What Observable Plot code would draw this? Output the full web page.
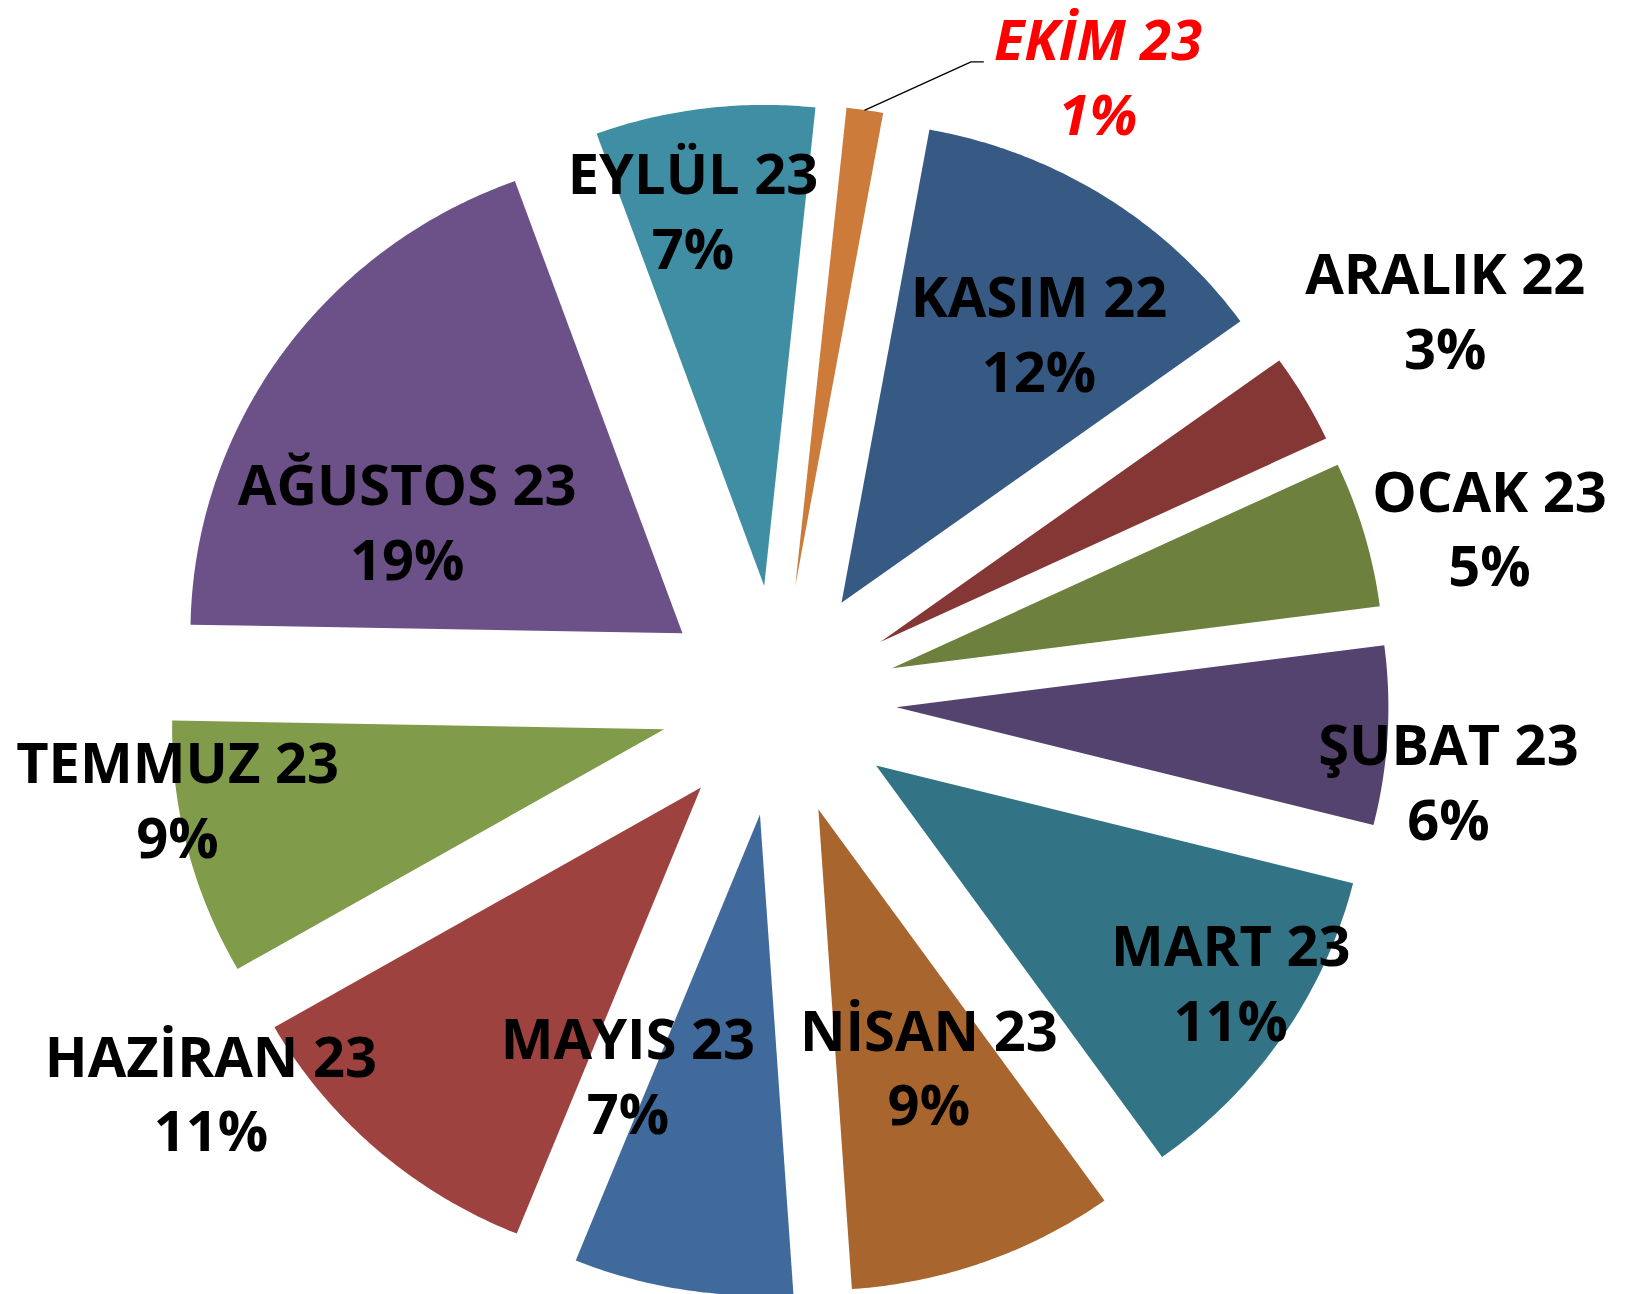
<!DOCTYPE html>
<html>
<head>
<meta charset="utf-8">
<script src="https://cdn.jsdelivr.net/npm/d3@7"></script>
<script src="https://cdn.jsdelivr.net/npm/@observablehq/plot@0.6"></script>
<style>
  html, body { margin: 0; padding: 0; background: #ffffff; overflow: hidden; }
  #chart svg { display: block; }
</style>
</head>
<body>
<div id="chart"></div>
<script>
// ---- data ----
const months = ["KASIM 22", "ARALIK 22", "OCAK 23", "ŞUBAT 23", "MART 23", "NİSAN 23",
                "MAYIS 23", "HAZİRAN 23", "TEMMUZ 23", "AĞUSTOS 23", "EYLÜL 23", "EKİM 23"];
const shares = [12.2, 3.0, 4.9, 6.0, 11.2, 8.8, 7.2, 10.6, 8.6, 19.2, 7.2, 1.2];
const colors = ["#375A84", "#843735", "#6D803D", "#54436E", "#327486", "#A8652E",
                "#416A9C", "#9E4240", "#809C4A", "#6B5188", "#3F8EA3", "#CC7B3A"];

// ---- label layout (Excel "best fit" placement), relative to each slice ----
const labelShift  = [2.8, -0.2, 2.6, 4.0, -1.4, -1.9, 12.2, 13.4, 4.5, -9.8, -2.8, 18.6]; // degrees
const labelRadius = [0.922, 1.575, 1.487, 1.373, 1.095, 0.829, 0.845, 1.418, 1.240, 0.838, 1.025, 1.443];
const highlight = "EKİM 23";

const START_DEG = 10.3;   // first slice start angle, clockwise from 12 o'clock
const EXPLODE = 0.24;     // slice explosion, in pie radii

// ---- geometry ----
const rad = d => d * Math.PI / 180;
const total = d3.sum(shares);
let acc = 0;
const slices = months.map((m, i) => {
  const a0 = START_DEG + acc / total * 360;
  acc += shares[i];
  const a1 = START_DEG + acc / total * 360;
  const mid = (a0 + a1) / 2;
  return {month: m, a0, a1, mid, pct: Math.round(shares[i] / total * 100),
          cx: EXPLODE * Math.sin(rad(mid)), cy: EXPLODE * Math.cos(rad(mid))};
});

const pts = [];
for (const s of slices) {
  pts.push({month: s.month, x: s.cx, y: s.cy});
  const n = Math.max(4, Math.ceil((s.a1 - s.a0) / 0.5));
  for (let k = 0; k <= n; k++) {
    const a = rad(s.a0 + (s.a1 - s.a0) * k / n);
    pts.push({month: s.month, x: s.cx + Math.sin(a), y: s.cy + Math.cos(a)});
  }
}

const labels = slices.map((s, i) => {
  const a = rad(s.mid + labelShift[i]);
  return {month: s.month, x: labelRadius[i] * Math.sin(a), y: labelRadius[i] * Math.cos(a),
          text: s.month + "\n" + s.pct + "%"};
});

const hl = slices.find(s => s.month === highlight);
const hlLab = labels.find(l => l.month === highlight);
const leader = [
  {x: hl.cx + Math.sin(rad(hl.mid)), y: hl.cy + Math.cos(rad(hl.mid))},
  {x: hlLab.x - 0.258, y: hlLab.y + 0.039},
  {x: hlLab.x - 0.233, y: hlLab.y + 0.039}
];

const font = "'Open Sans', Lato, 'DejaVu Sans', sans-serif";

const chart = Plot.plot({
  width: 1627,
  height: 1294,
  margin: 0,
  x: {domain: [-1.5813, 1.7256], axis: null},
  y: {domain: [-1.2349, 1.4553], axis: null},
  color: {domain: months, range: colors},
  style: {background: "#ffffff"},
  marks: [
    Plot.line(pts, {x: "x", y: "y", z: "month", fill: "month", stroke: "none", curve: "linear-closed"}),
    Plot.line(leader, {x: "x", y: "y", stroke: "#000000", strokeWidth: 1.3}),
    Plot.text(labels.filter(d => d.month !== highlight), {
      x: "x", y: "y", text: "text", fill: "#000000", dy: -7,
      fontSize: 56, fontWeight: 700, fontFamily: font, lineHeight: 1.335
    }),
    Plot.text(labels.filter(d => d.month === highlight), {
      x: "x", y: "y", text: "text", fill: "#FF0000", dy: -7,
      fontSize: 56, fontWeight: 700, fontStyle: "italic", fontFamily: font, lineHeight: 1.335
    })
  ]
});
document.getElementById("chart").append(chart);
</script>
</body>
</html>
